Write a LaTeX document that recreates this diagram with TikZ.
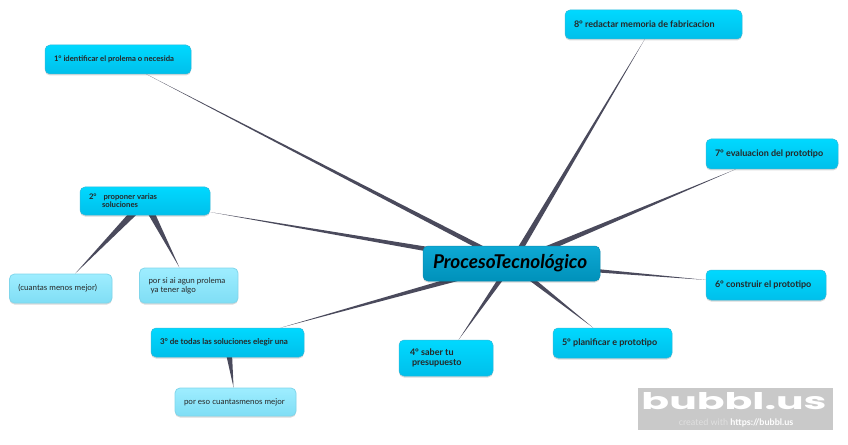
\documentclass[tikz,border=0pt]{standalone}
\usepackage{fontspec}
\setmainfont{Lato}
\newfontfamily\logofont{Poppins}
\usetikzlibrary{calc,backgrounds,shadows}

\newlength{\du}
\setlength{\du}{0.75pt}

\definecolor{branchcolor}{rgb}{0.29, 0.29, 0.36}
\definecolor{logocolor}{rgb}{0.79, 0.79, 0.79}
\definecolor{rtop}{rgb}{0.05, 0.66, 0.83}
\definecolor{rbot}{rgb}{0.00, 0.57, 0.73}
\definecolor{rline}{rgb}{0.05, 0.55, 0.70}
\definecolor{mtop}{rgb}{0.00, 0.85, 1.00}
\definecolor{mbot}{rgb}{0.00, 0.75, 0.92}
\definecolor{mline}{rgb}{0.20, 0.72, 0.85}
\definecolor{stop}{rgb}{0.62, 0.93, 1.00}
\definecolor{sbot}{rgb}{0.50, 0.87, 0.96}
\definecolor{sline}{rgb}{0.50, 0.84, 0.92}

\newcommand{\pxfont}[1]{\fontsize{#1\du}{1.08\dimexpr#1\du\relax}\selectfont}
% wide at the first node, thin where it reaches the second one
\newcommand{\branch}[3]{\path (#1)--(#2) coordinate[pos=1] (tip);
\fill[branchcolor] ($(#1.center)!#3\du!90:(tip)$)--(tip)--($(#1.center)!#3\du!-90:(tip)$)--cycle;}

\tikzset{
  bubble/.style={rounded corners=5\du, inner xsep=9\du, inner ysep=0pt, align=flush left, text=black!85,
    general shadow={shadow xshift=0pt, shadow yshift=-1.5\du, fill=black, opacity=0.15}},
  rootbubble/.style={bubble, draw=rline, line width=0.5\du, top color=rtop, bottom color=rbot, inner xsep=10\du, text=black},
  mainbubble/.style={bubble, draw=mline, line width=0.5\du, top color=mtop, bottom color=mbot},
  subbubble/.style={bubble, draw=sline, line width=0.8\du, top color=stop, bottom color=sbot},
}

\begin{document}
\begin{tikzpicture}[x=\du,y=-\du]
\useasboundingbox (0,0) rectangle (848,445);

\node[rootbubble, minimum height=35\du, text width=157\du, font=\pxfont{19}\bfseries\itshape] (root) at (511.5,263.5) {\mbox{ProcesoTecnológico}};

\node[mainbubble, minimum height=29\du, text width=128\du, font=\pxfont{7.7}\bfseries] (first) at (118,59.5) {\mbox{1° identificar el prolema o necesida}};
\node[mainbubble, minimum height=28\du, text width=112\du, font=\pxfont{7.7}\bfseries] (second) at (145,201) {\mbox{2°\hspace{5\du} proponer varias}\\\hspace*{13\du}soluciones};
\node[subbubble, minimum height=29\du, text width=84.5\du, font=\pxfont{8}] (fewer) at (60.75,288.5) {\mbox{(cuantas menos mejor)}};
\node[subbubble, minimum height=35\du, text width=80.5\du, font=\pxfont{8}] (problem) at (188.75,285.5) {\mbox{por si ai agun prolema}\\\hspace*{2\du}ya tener algo};
\node[mainbubble, minimum height=29\du, text width=135\du, font=\pxfont{8}\bfseries] (third) at (227.5,342.5) {\mbox{3° de todas las soluciones elegir una}};
\node[subbubble, minimum height=28\du, text width=103\du, font=\pxfont{8}] (because) at (235.5,402) {\mbox{por eso cuantasmenos mejor}};
\node[mainbubble, minimum height=36\du, text width=72\du, inner xsep=11\du, font=\pxfont{9}\bfseries] (fourth) at (446,358) {4° saber tu\\\hspace*{2\du}presupuesto};
\node[mainbubble, minimum height=30\du, text width=101\du, font=\pxfont{9}\bfseries] (fifth) at (612.5,343) {\mbox{5° planificar e prototipo}};
\node[mainbubble, minimum height=30\du, text width=102\du, font=\pxfont{9}\bfseries] (sixth) at (766,285) {\mbox{6° construir el prototipo}};
\node[mainbubble, minimum height=30\du, text width=114\du, font=\pxfont{9}\bfseries] (seventh) at (772,154) {\mbox{7° evaluacion del prototipo}};
\node[mainbubble, minimum height=29\du, text width=159\du, font=\pxfont{9}\bfseries] (eighth) at (653.5,24.5) {\mbox{8° redactar memoria de fabricacion}};

\begin{scope}[on background layer]
\branch{root}{first}{2.6}
\branch{root}{second}{3.2}
\branch{root}{third}{3.2}
\branch{root}{fourth}{3}
\branch{root}{fifth}{3}
\branch{root}{sixth}{3}
\branch{root}{seventh}{3.2}
\branch{root}{eighth}{3}
\branch{second}{fewer}{4}
\branch{second}{problem}{4}
\branch{third}{because}{4}
\end{scope}

% logo
\node[fill=logocolor, minimum width=195\du, minimum height=42\du, inner sep=0pt] (logo) at (735.5,409) {};
\node[text=white, inner sep=0pt, font=\logofont\bfseries\pxfont{23}] (logoname) at (734,401) {\scalebox{1.78}[1]{bubbl.us}};
\node[text=white!88!black, inner sep=0pt, font=\pxfont{9}] (logonote) at (736,422.5) {created with \textcolor{white}{\textbf{https://bubbl.us}}};
\end{tikzpicture}
\end{document}
